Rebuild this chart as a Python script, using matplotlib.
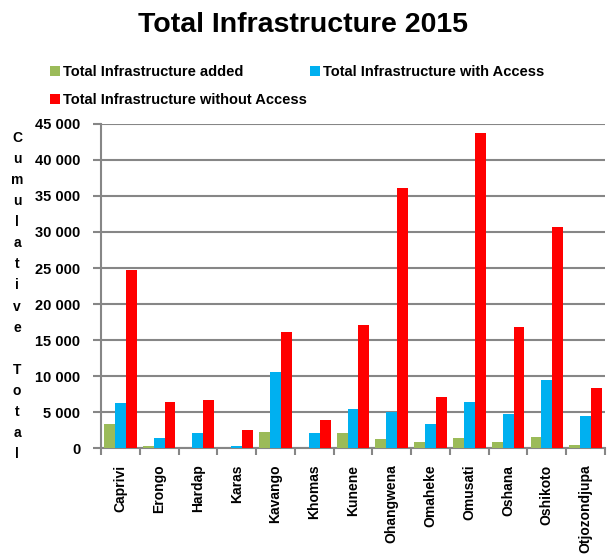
import numpy as np
import matplotlib
matplotlib.use("Agg")
import matplotlib.pyplot as plt
from matplotlib.ticker import FuncFormatter

regions = ['Caprivi', 'Erongo', 'Hardap', 'Karas', 'Kavango', 'Khomas', 'Kunene',
           'Ohangwena', 'Omaheke', 'Omusati', 'Oshana', 'Oshikoto', 'Otjozondjupa']
added = [3300, 300, 0, 0, 2200, 0, 2100, 1200, 800, 1400, 800, 1500, 400]
with_access = [6250, 1400, 2100, 300, 10500, 2100, 5400, 5000, 3300, 6400, 4700, 9400, 4400]
without_access = [24700, 6400, 6700, 2500, 16100, 3900, 17100, 36100, 7100, 43700, 16800, 30700, 8300]

plt.rcParams['font.family'] = ['Liberation Sans', 'DejaVu Sans']
plt.rcParams['font.weight'] = 'bold'

fig = plt.figure(figsize=(6.07, 5.55), dpi=100)
ax = fig.add_axes([101 / 607, 107 / 555, 504 / 607, 324 / 555])

x = np.arange(len(regions))
w = 0.28
b1 = ax.bar(x - w, added, w, color='#9BBB59', label='Total Infrastructure added', zorder=3)
b2 = ax.bar(x, with_access, w, color='#00B0F0', label='Total Infrastructure with Access', zorder=3)
b3 = ax.bar(x + w, without_access, w, color='#FF0000', label='Total Infrastructure without Access', zorder=3)

ax.set_xlim(-0.5, len(regions) - 0.5)
ax.set_ylim(0, 45000)
ax.set_yticks(np.arange(0, 45001, 5000))
ax.yaxis.set_major_formatter(FuncFormatter(lambda v, p: f"{int(v):,}".replace(',', ' ')))
ax.grid(axis='y', color='#868686', linewidth=1.5, zorder=0)

# ticks between groups, labels under group centres
ax.set_xticks(np.arange(len(regions) + 1) - 0.5)
ax.set_xticklabels([])
ax.set_xticks(x, minor=True)
ax.set_xticklabels(regions, minor=True, rotation=90, fontsize=10, fontweight='bold')
ax.tick_params(axis='x', which='minor', length=0, pad=12)
ax.tick_params(axis='x', which='major', length=5, width=1.5, color='#868686')
ax.tick_params(axis='y', length=6, width=1.5, color='#868686', labelsize=10.5, pad=9)
for lab in ax.get_yticklabels():
    lab.set_fontweight('bold')

for s in ['top', 'right']:
    ax.spines[s].set_visible(False)
for s in ['left', 'bottom']:
    ax.spines[s].set_color('#868686')
    ax.spines[s].set_linewidth(1.5)

fig.text(0.5, 1 - 25 / 555, 'Total Infrastructure 2015', ha='center', va='center',
         fontsize=20.5, fontweight='bold')

fig.text(17 / 607, 1 - 296 / 555, '\n'.join('Cumulative Total'), ha='center', va='center',
         fontsize=10, fontweight='bold', linespacing=1.64)

fig.legend([b1, b3, b2], [b1.get_label(), b3.get_label(), b2.get_label()],
           loc='upper left', bbox_to_anchor=(44 / 607, 1 - 59 / 555), ncol=2, frameon=False,
           fontsize=10.5, handlelength=0.7, handleheight=0.7, handletextpad=0.2,
           columnspacing=0.2, labelspacing=1.0, borderaxespad=0)

fig.savefig('out.png', dpi=100)
